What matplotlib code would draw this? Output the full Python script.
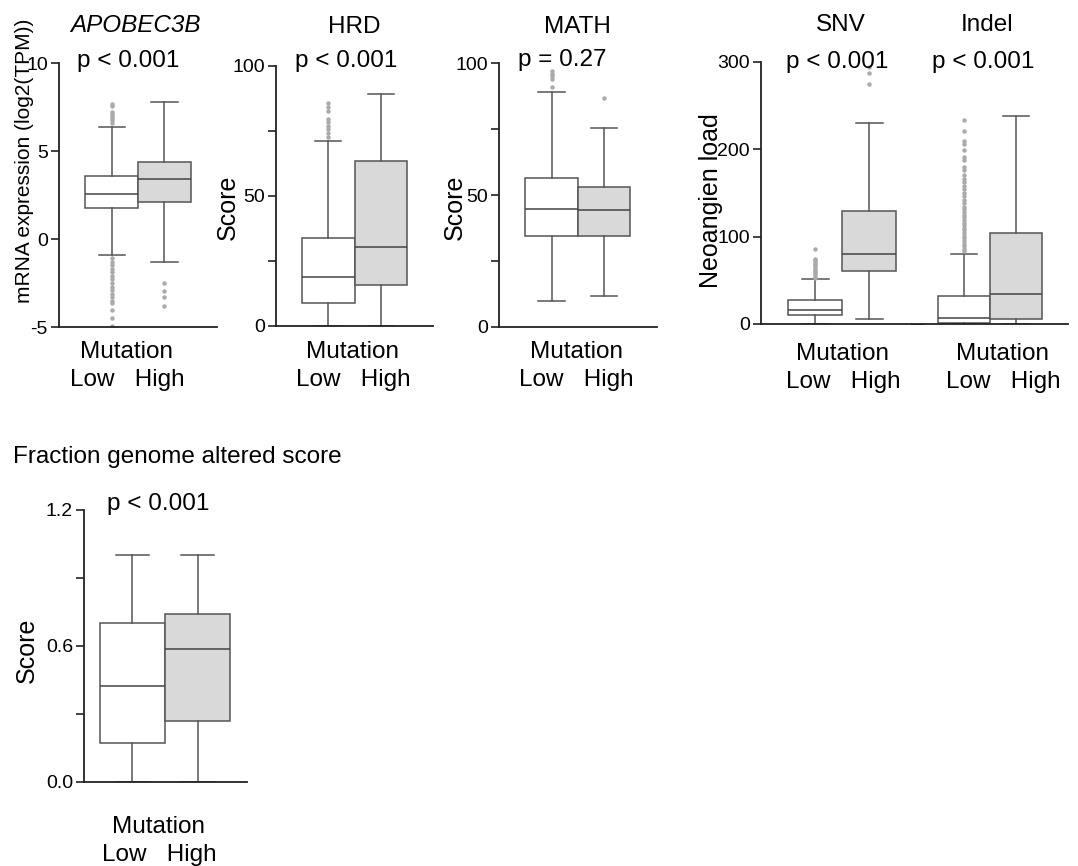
import matplotlib.pyplot as plt

plt.rcParams['font.family'] = ['Liberation Sans', 'DejaVu Sans']

# ---- data ----
groups = ["Low", "High"]

apobec_q1 = [1.74, 2.08]
apobec_med = [2.58, 3.39]
apobec_q3 = [3.58, 4.39]
apobec_lo = [-0.93, -1.33]
apobec_hi = [6.36, 7.78]
apobec_fliers = [
    [6.6, 6.75, 6.9, 7.0, 7.1, 7.2, 7.55, 7.65,
     -1.1, -1.3, -1.5, -1.7, -1.9, -2.1, -2.3, -2.5, -2.7, -2.9, -3.1,
     -3.3, -3.5, -3.65, -4.05, -4.5, -4.95],
    [-2.48, -2.97, -3.31, -3.79],
]

hrd_q1 = [8.96, 15.9]
hrd_med = [18.95, 30.3]
hrd_q3 = [33.7, 63.4]
hrd_lo = [0, 0]
hrd_hi = [71.1, 89.1]
hrd_fliers = [[72.5, 74, 75.5, 77, 78.5, 79.5, 82.5, 84, 85.5], []]

math_q1 = [34.3, 34.3]
math_med = [44.8, 44.2]
math_q3 = [56.3, 52.9]
math_lo = [9.75, 11.8]
math_hi = [89.2, 75.4]
math_fliers = [[91, 94, 95, 96, 97], [86.8]]

snv_q1 = [10.3, 61]
snv_med = [16, 79.7]
snv_q3 = [27.1, 129.2]
snv_lo = [0, 6.1]
snv_hi = [51.5, 229.9]
snv_fliers = [[53, 55, 57, 59, 61, 63, 65, 67, 69, 71, 73, 74.5, 86],
              [275, 287, 294]]

indel_q1 = [0.8, 5.7]
indel_med = [6.5, 33.9]
indel_q3 = [32.4, 104.5]
indel_lo = [0, 0]
indel_hi = [80.4, 238.3]
indel_fliers = [[83, 86, 89, 92, 95, 98, 101, 104, 107, 110, 113, 116, 119,
                 122, 125, 128, 131, 134, 138, 142, 146, 150, 154, 158, 162,
                 166, 170, 176, 180, 187, 191, 199, 206, 209, 221, 233], []]

fga_q1 = [0.169, 0.267]
fga_med = [0.421, 0.585]
fga_q3 = [0.701, 0.739]
fga_lo = [0, 0]
fga_hi = [1.0, 1.0]
fga_fliers = [[], []]

W, H = 1078, 866
fig = plt.figure(figsize=(W / 100, H / 100), dpi=100)
FS = 17.5


def px(x, y):
    return x / W, 1 - y / H


def new_axes(x0, y0, x1, y1):
    return fig.add_axes([x0 / W, 1 - y1 / H, (x1 - x0) / W, (y1 - y0) / H])


def style(ax, ylim, yticks, ylabels, xlim=(0, 3), left=True):
    ax.set_xlim(*xlim)
    ax.set_ylim(*ylim)
    ax.set_xticks([])
    for s in ['top', 'right']:
        ax.spines[s].set_visible(False)
    for s in ['left', 'bottom']:
        ax.spines[s].set_linewidth(1.3)
        ax.spines[s].set_color('#222222')
    if left:
        ax.set_yticks(yticks)
        ax.set_yticklabels(ylabels)
        ax.tick_params(axis='y', length=6, width=1.2, labelsize=14, pad=2,
                       color='#222222')
    else:
        ax.spines['left'].set_visible(False)
        ax.set_yticks([])


def draw_box(ax, q1, med, q3, lo, hi, fliers):
    stats = []
    for i in range(len(groups)):
        stats.append(dict(q1=q1[i], med=med[i], q3=q3[i], whislo=lo[i],
                          whishi=hi[i], fliers=fliers[i]))
    bp = ax.bxp(stats, positions=[1, 2], widths=1, capwidths=0.5,
                patch_artist=True,
                boxprops=dict(edgecolor='#555555', linewidth=1.1),
                whiskerprops=dict(color='#555555', linewidth=1.1),
                capprops=dict(color='#555555', linewidth=1.1),
                medianprops=dict(color='#444444', linewidth=1.1),
                flierprops=dict(marker='o', markersize=3.2,
                                markerfacecolor='#aaaaaa',
                                markeredgecolor='none'))
    for patch, c in zip(bp['boxes'], ['white', '#d9d9d9']):
        patch.set_facecolor(c)


def label(x, y, s, **kw):
    fx, fy = px(x, y)
    kw.setdefault('ha', 'center')
    kw.setdefault('va', 'baseline')
    kw.setdefault('fontsize', FS)
    fig.text(fx, fy, s, **kw)


def xgroup(x, y):
    label(x, y, "Mutation")
    label(x, y + 28, "Low   High")


# APOBEC3B
ax1 = new_axes(59, 63, 217, 327)
draw_box(ax1, apobec_q1, apobec_med, apobec_q3, apobec_lo, apobec_hi, apobec_fliers)
style(ax1, (-5, 10), [-5, 0, 5, 10], ['-5', '0', '5', '10'])
label(135, 32, "APOBEC3B", style='italic')
label(128.5, 66.5, "p < 0.001")
label(25, 161, "mRNA expression (log2(TPM))", rotation=90, va='center', fontsize=15)
xgroup(127, 358)

# HRD
ax2 = new_axes(276, 65.7, 433, 326)
draw_box(ax2, hrd_q1, hrd_med, hrd_q3, hrd_lo, hrd_hi, hrd_fliers)
style(ax2, (0, 100), [0, 25, 50, 75, 100], ['0', '', '50', '', '100'])
label(354, 33, "HRD")
label(346, 66.5, "p < 0.001")
label(228, 207, "Score", rotation=90, va='center', fontsize=18)
xgroup(353, 358)

# MATH
ax3 = new_axes(499, 63.3, 656.7, 326.7)
draw_box(ax3, math_q1, math_med, math_q3, math_lo, math_hi, math_fliers)
style(ax3, (0, 100), [0, 25, 50, 75, 100], ['0', '', '50', '', '100'])
label(577, 33, "MATH")
label(562, 66, "p = 0.27")
label(455, 207, "Score", rotation=90, va='center', fontsize=18)
xgroup(576, 358)

# SNV / Indel
ax4 = new_axes(761, 61.7, 923, 324)
draw_box(ax4, snv_q1, snv_med, snv_q3, snv_lo, snv_hi, snv_fliers)
style(ax4, (0, 300), [0, 100, 200, 300], ['0', '100', '200', '300'])
ax5 = new_axes(912, 61.7, 1068, 324)
draw_box(ax5, indel_q1, indel_med, indel_q3, indel_lo, indel_hi, indel_fliers)
style(ax5, (0, 300), [], [], left=False)
label(841, 31, "SNV")
label(987, 31, "Indel")
label(837, 68, "p < 0.001")
label(983, 68, "p < 0.001")
label(711, 201, "Neoangien load", rotation=90, va='center', fontsize=18)
xgroup(843, 360)
xgroup(1003, 360)

# Fraction genome altered score
ax6 = new_axes(84, 510, 247.3, 781.7)
draw_box(ax6, fga_q1, fga_med, fga_q3, fga_lo, fga_hi, fga_fliers)
style(ax6, (0, 1.2), [0, 0.3, 0.6, 0.9, 1.2], ['0.0', '', '0.6', '', '1.2'],
      xlim=(0.26, 2.76))
label(13, 463, "Fraction genome altered score", ha='left')
label(158, 510, "p < 0.001")
label(27, 650, "Score", rotation=90, va='center', fontsize=18)
xgroup(159, 833)

fig.savefig("out.png", dpi=100)
